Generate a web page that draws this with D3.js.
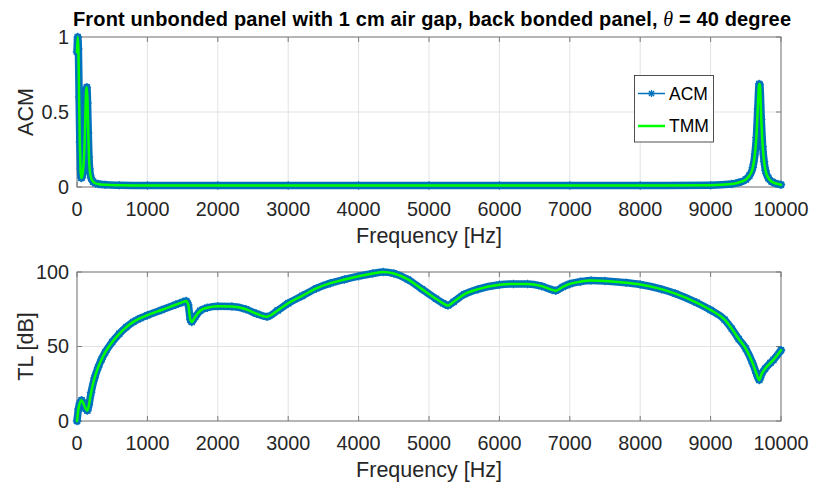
<!DOCTYPE html>
<html>
<head>
<meta charset="utf-8">
<script src="https://cdn.jsdelivr.net/npm/d3@7"></script>
<style>
  html, body { margin: 0; padding: 0; background: #fff; }
  svg { display: block; font-family: "Liberation Sans", Arial, Helvetica, sans-serif; }
</style>
</head>
<body>
<svg id="chart" width="814" height="482"></svg>
<script>
// ---------- DATA ----------
const titleText = "Front unbonded panel with 1 cm air gap, back bonded panel, ";
const xTicks = [0, 1000, 2000, 3000, 4000, 5000, 6000, 7000, 8000, 9000, 10000];
const acmTicks = [0, 0.5, 1];
const acmTickLabels = ["0", "0.5", "1"];
const tlTicks = [0, 50, 100];
const tlTickLabels = ["0", "50", "100"];
const seriesNames = ["ACM", "TMM"];

// absorption coefficient (upper panel)
const freqAbs = [0, 10, 20, 30, 40, 50, 60, 70, 80, 90, 100, 110, 120, 130, 140, 150, 160, 170, 180, 200, 230, 260, 300, 400, 600, 1000, 2000, 3000, 4000, 5000, 6000, 7000, 8000, 9000, 9300, 9400, 9500, 9550, 9600, 9630, 9650, 9670, 9690, 9700, 9720, 9740, 9760, 9780, 9820, 9870, 9920, 10000];
const absACM = [0.9, 1.0, 0.92, 0.6, 0.3, 0.12, 0.06, 0.065, 0.09, 0.13, 0.2, 0.32, 0.5, 0.64, 0.665, 0.56, 0.36, 0.2, 0.12, 0.06, 0.035, 0.025, 0.02, 0.015, 0.012, 0.01, 0.01, 0.01, 0.01, 0.01, 0.01, 0.01, 0.01, 0.012, 0.02, 0.03, 0.05, 0.075, 0.13, 0.22, 0.33, 0.52, 0.687, 0.68, 0.45, 0.27, 0.17, 0.11, 0.06, 0.035, 0.025, 0.015];
const absTMM = [0.9, 1.0, 0.92, 0.6, 0.3, 0.12, 0.06, 0.065, 0.09, 0.13, 0.2, 0.32, 0.5, 0.64, 0.665, 0.56, 0.36, 0.2, 0.12, 0.06, 0.035, 0.025, 0.02, 0.015, 0.012, 0.01, 0.01, 0.01, 0.01, 0.01, 0.01, 0.01, 0.01, 0.012, 0.02, 0.03, 0.05, 0.075, 0.13, 0.22, 0.33, 0.52, 0.687, 0.68, 0.45, 0.27, 0.17, 0.11, 0.06, 0.035, 0.025, 0.015];

// transmission loss (lower panel)
const freqTL = [0, 20, 40, 65, 90, 120, 147, 170, 200, 250, 300, 350, 400, 500, 600, 700, 800, 900, 1000, 1200, 1400, 1500, 1550, 1580, 1610, 1630, 1680, 1750, 1850, 2000, 2200, 2400, 2550, 2700, 2850, 3000, 3200, 3400, 3600, 3800, 4000, 4200, 4350, 4500, 4700, 4900, 5100, 5200, 5270, 5350, 5500, 5700, 6000, 6200, 6400, 6600, 6750, 6800, 6900, 7000, 7150, 7300, 7500, 7800, 8000, 8300, 8500, 8800, 9000, 9200, 9300, 9400, 9500, 9600, 9650, 9692, 9720, 9773, 9850, 9891, 10000];
const tlACM = [0, 8, 12, 14, 12, 8.5, 7, 11, 19, 29, 36, 41.5, 46, 53, 58.5, 63, 66.5, 69, 71, 74.5, 78, 79.8, 80.5, 78, 68, 66.5, 70, 74, 76, 77, 76.8, 75, 72, 70, 74.2, 79, 84, 89, 92.5, 95, 97.2, 99, 100, 99, 95, 88.5, 82, 79, 77.5, 80, 85, 88.5, 91.4, 92, 92, 90.5, 88, 87.5, 90, 92, 93.5, 94.3, 94, 92.8, 91.6, 88.5, 85.5, 79.5, 74.5, 68, 62, 55, 48.6, 38.5, 32, 27.5, 31, 35, 39, 41, 47.5];
const tlTMM = [0, 8, 12, 14, 12, 8.5, 7, 11, 19, 29, 36, 41.5, 46, 53, 58.5, 63, 66.5, 69, 71, 74.5, 78, 79.8, 80.5, 78, 68, 66.5, 70, 74, 76, 77, 76.8, 75, 72, 70, 74.2, 79, 84, 89, 92.5, 95, 97.2, 99, 100, 99, 95, 88.5, 82, 79, 77.5, 80, 85, 88.5, 91.4, 92, 92, 90.5, 88, 87.5, 90, 92, 93.5, 94.3, 94, 92.8, 91.6, 88.5, 85.5, 79.5, 74.5, 68, 62, 55, 48.6, 38.5, 32, 27.5, 31, 35, 39, 41, 47.5];

// ---------- STYLE ----------
const blue = "#0072BD";
const green = "#00FF00";
const axisColor = "#262626";
const boxColor = "#7a7a7a";
const gridColor = "#e3e3e3";

const svg = d3.select("#chart");
svg.append("rect").attr("width", 814).attr("height", 482).attr("fill", "#fff");

const left = 77, right = 781;
const x = d3.scaleLinear().domain([0, 10000]).range([left, right]);

function starPath(s) {
  const h = s / 2, d = h * 0.72;
  return `M${-h},0L${h},0M0,${-h}L0,${h}M${-d},${-d}L${d},${d}M${-d},${d}L${d},${-d}`;
}

function panel(cfg) {
  const y = d3.scaleLinear().domain(cfg.domain).range([cfg.bottom, cfg.top]);
  const g = svg.append("g");

  // grid
  g.selectAll(".gx").data(xTicks).join("line")
    .attr("x1", d => x(d)).attr("x2", d => x(d))
    .attr("y1", cfg.top).attr("y2", cfg.bottom)
    .attr("stroke", gridColor).attr("stroke-width", 1);
  g.selectAll(".gy").data(cfg.yTicks).join("line")
    .attr("x1", left).attr("x2", right)
    .attr("y1", d => y(d)).attr("y2", d => y(d))
    .attr("stroke", gridColor).attr("stroke-width", 1);

  // box
  g.append("rect").attr("x", left).attr("y", cfg.top)
    .attr("width", right - left).attr("height", cfg.bottom - cfg.top)
    .attr("fill", "none").attr("stroke", boxColor).attr("stroke-width", 1);

  // inward ticks
  const tl = 5;
  xTicks.forEach(t => {
    g.append("line").attr("x1", x(t)).attr("x2", x(t)).attr("y1", cfg.bottom).attr("y2", cfg.bottom - tl).attr("stroke", boxColor);
    g.append("line").attr("x1", x(t)).attr("x2", x(t)).attr("y1", cfg.top).attr("y2", cfg.top + tl).attr("stroke", boxColor);
  });
  cfg.yTicks.forEach(t => {
    g.append("line").attr("x1", left).attr("x2", left + tl).attr("y1", y(t)).attr("y2", y(t)).attr("stroke", boxColor);
    g.append("line").attr("x1", right).attr("x2", right - tl).attr("y1", y(t)).attr("y2", y(t)).attr("stroke", boxColor);
  });

  // tick labels
  g.selectAll(".xl").data(xTicks).join("text")
    .attr("x", d => x(d)).attr("y", cfg.bottom + 29)
    .attr("text-anchor", "middle").attr("font-size", 19.8).attr("fill", axisColor)
    .text(d => d);
  g.selectAll(".yl").data(cfg.yTicks).join("text")
    .attr("x", left - 8).attr("y", d => y(d)).attr("dy", "0.35em")
    .attr("text-anchor", "end").attr("font-size", 19.8).attr("fill", axisColor)
    .text((d, i) => cfg.yTickLabels[i]);

  // axis labels
  g.append("text").attr("x", (left + right) / 2).attr("y", cfg.bottom + 56)
    .attr("text-anchor", "middle").attr("font-size", 21.5).attr("fill", axisColor)
    .text("Frequency [Hz]");
  g.append("text")
    .attr("transform", `translate(33,${(cfg.top + cfg.bottom) / 2}) rotate(-90)`)
    .attr("text-anchor", "middle").attr("font-size", 21.5).attr("fill", axisColor)
    .text(cfg.yLabel);

  // data
  const line = d3.line().x(d => x(d[0])).y(d => y(d[1])).curve(d3.curveMonotoneX);
  const acmPts = cfg.freq.map((f, i) => [f, cfg.acm[i]]);
  const tmmPts = cfg.freq.map((f, i) => [f, cfg.tmm[i]]);
  g.append("path").datum(acmPts).attr("d", line)
    .attr("fill", "none").attr("stroke", blue).attr("stroke-width", 7.5)
    .attr("stroke-linejoin", "round").attr("stroke-linecap", "round");
  g.selectAll(".mk").data(acmPts).join("path")
    .attr("transform", d => `translate(${x(d[0])},${y(d[1])})`)
    .attr("d", starPath(8.5)).attr("stroke", blue).attr("stroke-width", 1.2).attr("fill", "none");
  g.append("path").datum(tmmPts).attr("d", line)
    .attr("fill", "none").attr("stroke", green).attr("stroke-width", 2.5)
    .attr("stroke-linejoin", "round").attr("stroke-linecap", "round");
  return { g, y };
}

panel({ top: 37, bottom: 187, domain: [0, 1], yTicks: acmTicks, yTickLabels: acmTickLabels,
        yLabel: "ACM", freq: freqAbs, acm: absACM, tmm: absTMM });
panel({ top: 272, bottom: 421, domain: [0, 100], yTicks: tlTicks, yTickLabels: tlTickLabels,
        yLabel: "TL [dB]", freq: freqTL, acm: tlACM, tmm: tlTMM });

// title (kept clear of the "1" tick label)
const title = svg.append("text").attr("x", 432).attr("y", 26)
  .attr("text-anchor", "middle").attr("font-size", 20).attr("font-weight", "bold").attr("fill", "#000")
  .attr("textLength", 718).attr("lengthAdjust", "spacing");
title.append("tspan").text(titleText);
title.append("tspan").attr("font-style", "italic").attr("font-weight", "normal")
  .attr("font-family", "'Liberation Serif', 'Times New Roman', serif").text("\u03B8");
title.append("tspan").text(" = 40 degree");

// legend
const lg = svg.append("g");
lg.append("rect").attr("x", 634.5).attr("y", 75.5).attr("width", 79).attr("height", 66.5)
  .attr("fill", "#fff").attr("stroke", "#262626").attr("stroke-width", 0.8);
const legY = [93.5, 126];
lg.append("line").attr("x1", 638).attr("x2", 665).attr("y1", legY[0]).attr("y2", legY[0])
  .attr("stroke", blue).attr("stroke-width", 1.5);
lg.append("path").attr("transform", `translate(651.5,${legY[0]})`).attr("d", starPath(7))
  .attr("stroke", blue).attr("stroke-width", 1.3).attr("fill", "none");
lg.append("line").attr("x1", 638).attr("x2", 665).attr("y1", legY[1]).attr("y2", legY[1])
  .attr("stroke", green).attr("stroke-width", 2.5);
lg.selectAll(".lt").data(seriesNames).join("text")
  .attr("x", 669).attr("y", (d, i) => legY[i]).attr("dy", "0.36em")
  .attr("font-size", 17.5).attr("fill", "#000").text(d => d);
</script>
</body>
</html>
